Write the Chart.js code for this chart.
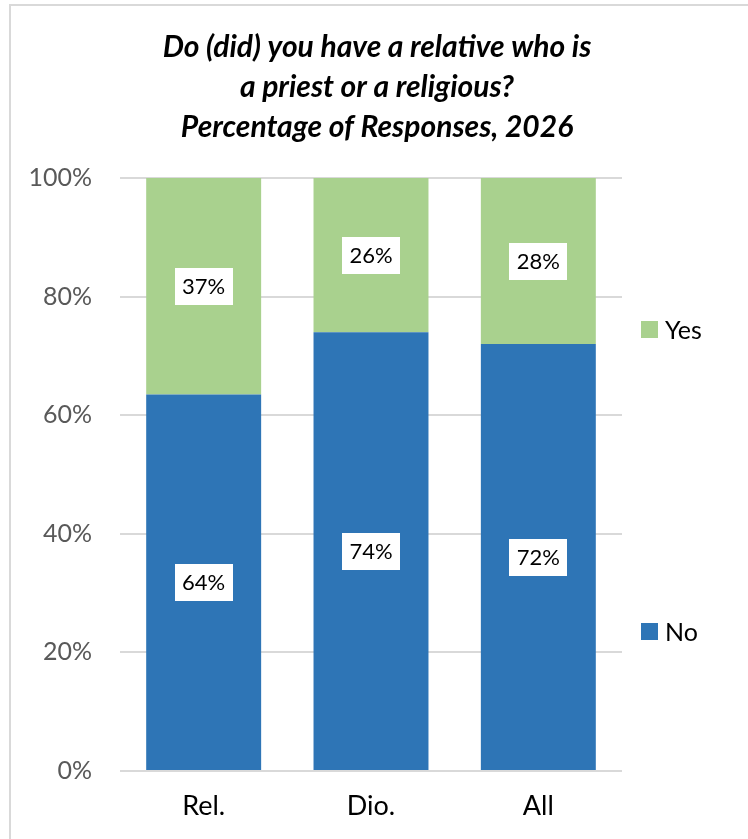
<!DOCTYPE html>
<html>
<head>
<meta charset="utf-8">
<script src="https://cdn.jsdelivr.net/npm/chart.js@4/dist/chart.umd.min.js"></script>
<style>
  html, body { margin: 0; padding: 0; background: #ffffff; }
  #wrap { position: relative; width: 748px; height: 839px; }
  canvas { display: block; }
</style>
</head>
<body>
<div id="wrap"><canvas id="c" width="748" height="839"></canvas></div>
<script>
const categories = ['Rel.', 'Dio.', 'All'];
const noValues = [63.5, 74, 72];
const yesValues = [36.5, 26, 28];
const yTicks = [0, 20, 40, 60, 80, 100];
const titleLines = ['Do (did) you have a relative who is', 'a priest or a religious?', 'Percentage of Responses, 2026'];

const FONT = 'Lato, "Open Sans", sans-serif';

const framePlugin = {
  id: 'frame',
  beforeDraw(chart) {
    const ctx = chart.ctx;
    ctx.save();
    ctx.fillStyle = '#ffffff';
    ctx.fillRect(0, 0, chart.width, chart.height);
    ctx.strokeStyle = '#d9d9d9';
    ctx.lineWidth = 2;
    ctx.beginPath();
    ctx.moveTo(10, chart.height);
    ctx.lineTo(10, 5);
    ctx.lineTo(chart.width, 5);
    ctx.stroke();
    ctx.restore();
  },
  afterDraw(chart) {
    const ctx = chart.ctx;
    ctx.save();
    ctx.fillStyle = '#000000';
    ctx.font = 'italic bold 30px ' + FONT;
    ctx.textAlign = 'center';
    ctx.textBaseline = 'middle';
    titleLines.forEach((t, i) => ctx.fillText(t, 377, 47 + i * 40));
    ctx.restore();
  }
};

const barLabelPlugin = {
  id: 'barLabels',
  afterDatasetsDraw(chart) {
    const ctx = chart.ctx;
    ctx.save();
    ctx.font = '22px ' + FONT;
    ctx.textAlign = 'center';
    ctx.textBaseline = 'middle';
    chart.data.datasets.forEach((ds, di) => {
      const meta = chart.getDatasetMeta(di);
      meta.data.forEach((el, i) => {
        const p = el.getCenterPoint();
        const txt = Math.round(ds.data[i]) + '%';
        ctx.fillStyle = '#ffffff';
        ctx.fillRect(Math.round(p.x - 29), Math.round(p.y - 18.5), 58, 37);
        ctx.fillStyle = '#000000';
        ctx.fillText(txt, p.x, p.y + 1);
      });
    });
    ctx.restore();
  }
};

const legendPlugin = {
  id: 'sideLegend',
  afterDraw(chart) {
    const ctx = chart.ctx;
    const area = chart.chartArea;
    const items = [
      { ds: chart.data.datasets[1], y: 330 },
      { ds: chart.data.datasets[0], y: 632 }
    ];
    ctx.save();
    ctx.font = '25px ' + FONT;
    ctx.textAlign = 'left';
    ctx.textBaseline = 'middle';
    items.forEach(it => {
      const x = area.right + 19;
      ctx.fillStyle = it.ds.backgroundColor;
      ctx.fillRect(x, it.y - 9, 17, 17);
      ctx.fillStyle = '#000000';
      ctx.fillText(it.ds.label, x + 24, it.y + 1);
    });
    ctx.restore();
  }
};

new Chart(document.getElementById('c'), {
  type: 'bar',
  data: {
    labels: categories,
    datasets: [
      { label: 'No', data: noValues, backgroundColor: '#2e75b6', borderWidth: 0 },
      { label: 'Yes', data: yesValues, backgroundColor: '#a9d18e', borderWidth: 0 }
    ]
  },
  options: {
    responsive: false,
    animation: false,
    devicePixelRatio: 1,
    layout: { padding: { left: 10, right: 126, top: 178, bottom: 0 } },
    datasets: { bar: { categoryPercentage: 1, barPercentage: 0.687 } },
    plugins: {
      legend: { display: false },
      title: { display: false },
      tooltip: { enabled: false }
    },
    scales: {
      x: {
        stacked: true,
        grid: { display: false, drawTicks: false },
        border: { display: false },
        ticks: { color: '#000000', font: { family: FONT, size: 27 }, padding: 19 },
        afterFit(s) { s.height = 68; }
      },
      y: {
        stacked: true,
        min: 0,
        max: 100,
        afterBuildTicks(s) { s.ticks = yTicks.map(v => ({ value: v })); },
        grid: { color: '#d9d9d9', lineWidth: 2, drawTicks: false },
        border: { display: false },
        ticks: {
          color: '#595959',
          font: { family: FONT, size: 25 },
          padding: 28,
          callback: v => v + '%'
        },
        afterFit(s) { s.width = 110; }
      }
    }
  },
  plugins: [framePlugin, barLabelPlugin, legendPlugin]
});
</script>
</body>
</html>
